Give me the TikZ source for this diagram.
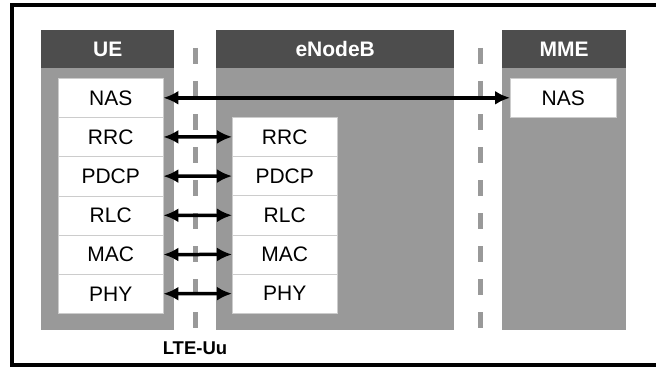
\documentclass[tikz,border=0pt]{standalone}
\usepackage{fontspec}
\setmainfont{Liberation Sans}
\usetikzlibrary{arrows.meta}
\definecolor{hdrgray}{HTML}{4D4D4D}
\definecolor{bodygray}{HTML}{999999}

\begin{document}
\begin{tikzpicture}[x=1pt, y=-1pt,
    layer/.style={draw=black!20, fill=white, minimum width=105pt, minimum height=39.2pt, inner sep=0pt, anchor=north west, font=\fontsize{21}{23}\selectfont},
    header/.style={fill=hdrgray, text=white, minimum height=38pt, inner sep=0pt, anchor=north west, font=\fontsize{21}{23}\selectfont\bfseries},
    link/.style={{Latex[length=15pt,width=14pt]}-{Latex[length=15pt,width=14pt]}, line width=3.5pt},
    lane/.style={draw=bodygray, line width=5pt, dash pattern=on 16pt off 17pt}]
  \useasboundingbox (0,0) rectangle (656,369);
  \draw [line width=4.5pt] (12,5) rectangle (670,365);

  % columns
  \fill [bodygray] (41,68) rectangle (174,330);
  \fill [bodygray] (216,68) rectangle (454,330);
  \fill [bodygray] (502,68) rectangle (626,330);
  \node [header, minimum width=133pt] (ue) at (41,30) {UE};
  \node [header, minimum width=238pt] (enb) at (216,30) {eNodeB};
  \node [header, minimum width=124pt] (mme) at (502,30) {MME};

  % interfaces
  \draw [lane] (195.5,48) -- (195.5,335);
  \draw [lane] (480,48) -- (480,335);
  \node [font=\fontsize{18.5}{20}\selectfont\bfseries] (uu) at (195,348) {LTE-Uu};

  % protocol layers
  \foreach \n [count=\i] in {NAS,RRC,PDCP,RLC,MAC,PHY}
    \node [layer] (ue\i) at (58,{78+39.2*(\i-1)}) {\n};
  \foreach \n [count=\i from 2] in {RRC,PDCP,RLC,MAC,PHY}
    \node [layer] (enb\i) at (232,{117+39.2*(\i-2)}) {\n};
  \node [layer, minimum width=106pt] (mme1) at (510,78) {NAS};

  \draw [link] (ue1) -- (mme1);
  \foreach \i in {2,...,6}
    \draw [link] (ue\i) -- (enb\i);
\end{tikzpicture}
\end{document}
